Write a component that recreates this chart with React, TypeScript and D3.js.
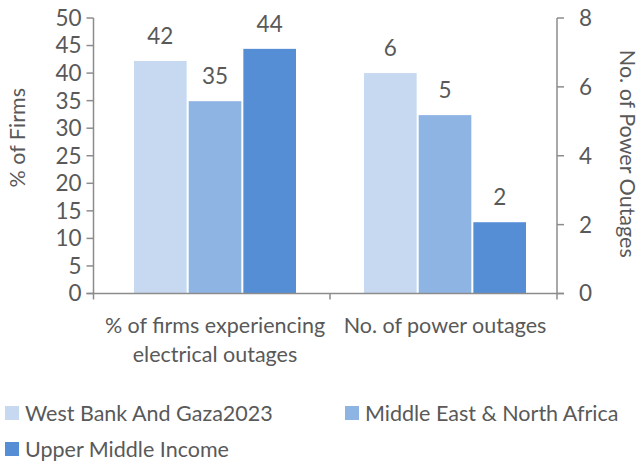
import React from "react";
import * as d3 from "d3";

const categories = ["% of firms experiencing electrical outages", "No. of power outages"];
const categoryLines = [["% of firms experiencing", "electrical outages"], ["No. of power outages"]];
const seriesNames = ["West Bank And Gaza2023", "Middle East & North Africa", "Upper Middle Income"];
const pctFirms = [42.2, 34.9, 44.4];
const numOutages = [6.4, 5.18, 2.07];
const pctLabels = ["42", "35", "44"];
const outageLabels = ["6", "5", "2"];
const leftTicks = [0, 5, 10, 15, 20, 25, 30, 35, 40, 45, 50];
const rightTicks = [0, 2, 4, 6, 8];
const colors = ["#C6D9F1", "#8EB4E3", "#558ED5"];

const W = 641;
const H = 461;
const FONT = "Lato, 'Open Sans', sans-serif";
const FS = 21.5;
const FSN = 22.5;
const TEXT = "#595959";
const AXIS = "#8c8c8c";

export default function App() {
  const plotL = 93.5, plotR = 557, plotT = 18, plotB = 293.5;
  const x = d3.scaleBand<string>().domain(categories).range([100, 560]);
  const yL = d3.scaleLinear().domain([0, 50]).range([plotB, plotT]);
  const yR = d3.scaleLinear().domain([0, 8]).range([plotB, plotT]);
  const groupW = 162;
  const inner = d3.scaleBand<string>().domain(seriesNames).range([0, groupW]).paddingInner(0.037);

  const groups = [
    { cat: categories[0], values: pctFirms, labels: pctLabels, y: yL },
    { cat: categories[1], values: numOutages, labels: outageLabels, y: yR },
  ];

  return (
    <svg width={W} height={H} style={{ position: "absolute", left: 0, top: 0 }} fontFamily={FONT}>
      <rect width={W} height={H} fill="#fff" />
      {groups.map((g, gi) => {
        const x0 = (x(g.cat) as number) + x.bandwidth() / 2 - groupW / 2;
        return (
          <g key={gi}>
            {g.values.map((v, i) => {
              const bx = x0 + (inner(seriesNames[i]) as number);
              const top = g.y(v);
              return (
                <g key={i}>
                  <rect x={bx} y={top} width={inner.bandwidth()} height={plotB - top} fill={colors[i]} />
                  <text x={bx + inner.bandwidth() / 2} y={top - 25} dy="0.35em" textAnchor="middle" fontSize={FSN} fill={TEXT}>
                    {g.labels[i]}
                  </text>
                </g>
              );
            })}
          </g>
        );
      })}
      {/* x axis */}
      <line x1={plotL - 7} x2={plotR + 7} y1={plotB} y2={plotB} stroke={AXIS} strokeWidth={1.5} />
      {[plotL, (x(categories[1]) as number), plotR].map((tx, i) => (
        <line key={i} x1={tx} x2={tx} y1={plotB} y2={plotB + 6} stroke={AXIS} strokeWidth={1.5} />
      ))}
      {/* left axis */}
      <line x1={plotL} x2={plotL} y1={plotT} y2={plotB} stroke={AXIS} strokeWidth={1.5} />
      {leftTicks.map((t) => (
        <g key={t}>
          <line x1={plotL - 7} x2={plotL} y1={yL(t)} y2={yL(t)} stroke={AXIS} strokeWidth={1.5} />
          <text x={plotL - 12} y={yL(t)} dy="0.35em" textAnchor="end" fontSize={FSN} fill={TEXT}>{t}</text>
        </g>
      ))}
      {/* right axis */}
      <line x1={plotR} x2={plotR} y1={plotT} y2={plotB} stroke={AXIS} strokeWidth={1.5} />
      {rightTicks.map((t) => (
        <g key={t}>
          <line x1={plotR} x2={plotR + 7} y1={yR(t)} y2={yR(t)} stroke={AXIS} strokeWidth={1.5} />
          <text x={plotR + 22} y={yR(t)} dy="0.35em" textAnchor="start" fontSize={FSN} fill={TEXT}>{t}</text>
        </g>
      ))}
      {/* axis titles */}
      <text transform={`translate(17,${(plotT + plotB) / 2 - 18}) rotate(-90)`} dy="0.35em" textAnchor="middle" fontSize={FS} fill={TEXT}>% of Firms</text>
      <text transform={`translate(628,${(plotT + plotB) / 2 - 2}) rotate(90)`} dy="0.35em" textAnchor="middle" fontSize={FS} fill={TEXT}>No. of Power Outages</text>
      {/* category labels */}
      {categories.map((c, ci) => (
        <text key={c} textAnchor="middle" fontSize={FS} fill={TEXT}>
          {categoryLines[ci].map((ln, li) => (
            <tspan key={li} x={(x(c) as number) + x.bandwidth() / 2} y={325 + li * 29} dy="0.35em">{ln}</tspan>
          ))}
        </text>
      ))}
      {/* legend */}
      {seriesNames.map((s, i) => {
        const lx = i === 1 ? 345 : 5;
        const ly = i === 2 ? 449 : 413;
        return (
          <g key={s}>
            <rect x={lx} y={ly - 7} width={14} height={14} fill={colors[i]} />
            <text x={lx + 20} y={ly} dy="0.35em" fontSize={FS} fill={TEXT}>{s}</text>
          </g>
        );
      })}
    </svg>
  );
}
